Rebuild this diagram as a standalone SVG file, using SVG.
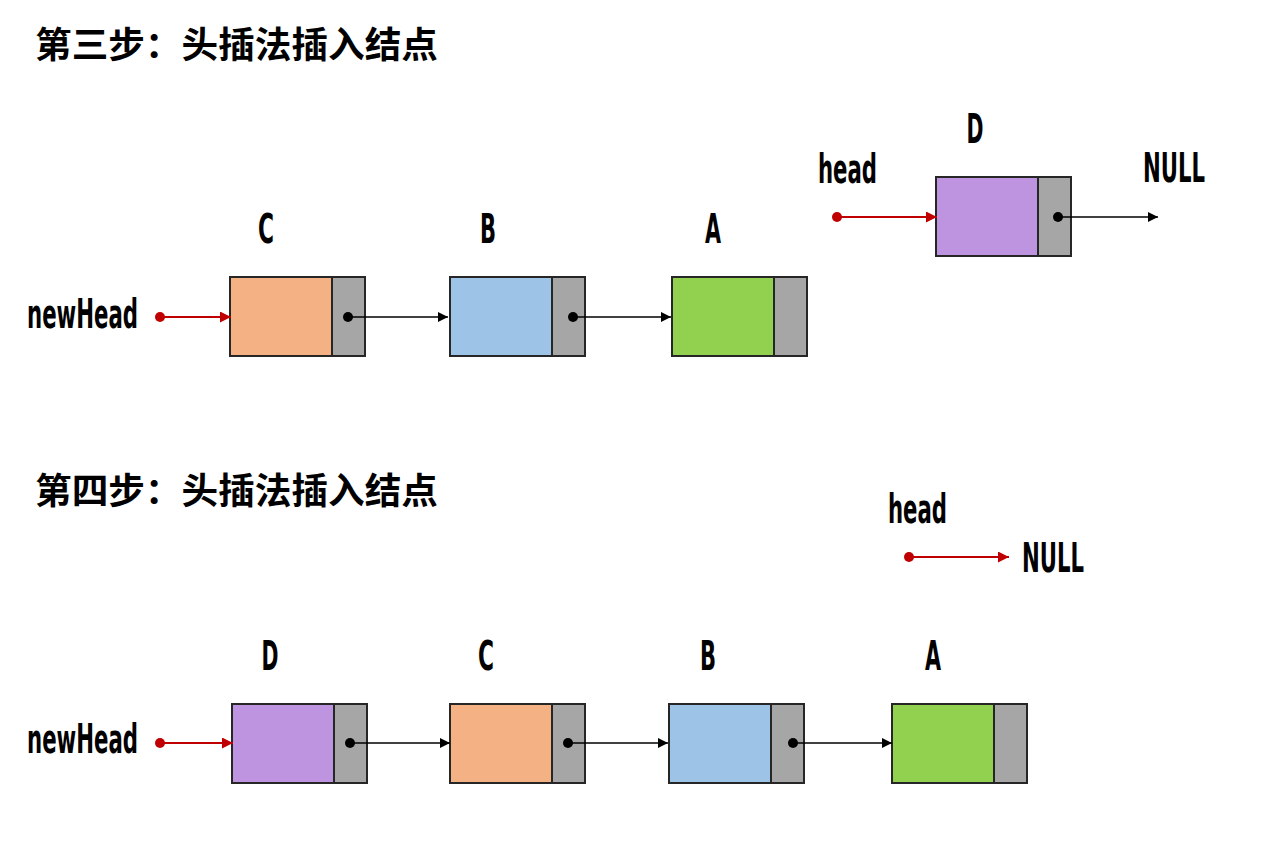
<svg xmlns="http://www.w3.org/2000/svg" width="1268" height="866" viewBox="0 0 1268 866">
<style>
.title{font-family:"Noto Sans CJK SC","Noto Sans",sans-serif;font-weight:bold;font-size:36px;fill:#000}
.lbl{font-family:"Liberation Sans Narrow","DejaVu Sans Condensed","Liberation Sans",sans-serif;font-weight:bold;font-size:41px;fill:#000}
.box{stroke:#262626;stroke-width:2}
.ptr{fill:#A6A6A6}
.orange{fill:#F4B183}.blue{fill:#9DC3E6}.green{fill:#92D050}.purple{fill:#BE93E0}
.blk{stroke:#000;stroke-width:1.3;fill:none}
.red{stroke:#C00000;stroke-width:2;fill:none}
</style>
<defs>
<marker id="ab" viewBox="0 0 10 10" refX="10" refY="5" markerWidth="11" markerHeight="10" markerUnits="userSpaceOnUse" orient="auto"><path d="M0,0L10,5L0,10z" fill="#000"/></marker>
<marker id="ar" viewBox="0 0 10 10" refX="10" refY="5" markerWidth="12" markerHeight="11" markerUnits="userSpaceOnUse" orient="auto"><path d="M0,0L10,5L0,10z" fill="#C00000"/></marker>
</defs>
<rect width="1268" height="866" fill="#fff"/>
<text class="title" x="35" y="58" textLength="403" lengthAdjust="spacingAndGlyphs">第三步：头插法插入结点</text>
<text class="title" x="35" y="504" textLength="403" lengthAdjust="spacingAndGlyphs">第四步：头插法插入结点</text>

<g id="labels">
<text class="lbl" x="27" y="328" textLength="111" lengthAdjust="spacingAndGlyphs">newHead</text>
<text class="lbl" x="818" y="183" textLength="59" lengthAdjust="spacingAndGlyphs">head</text>
<text class="lbl" x="1143" y="182" textLength="62" lengthAdjust="spacingAndGlyphs">NULL</text>
<text class="lbl" x="27" y="753" textLength="111" lengthAdjust="spacingAndGlyphs">newHead</text>
<text class="lbl" x="888" y="523" textLength="59" lengthAdjust="spacingAndGlyphs">head</text>
<text class="lbl" x="1022" y="572" textLength="62" lengthAdjust="spacingAndGlyphs">NULL</text>
</g>

<g id="top-C">
<text class="lbl" x="266" y="243" text-anchor="middle" textLength="16" lengthAdjust="spacingAndGlyphs">C</text>
<rect class="box orange" x="230" y="277" width="102" height="79"/>
<rect class="box ptr" x="332" y="277" width="33" height="79"/>
<circle cx="348" cy="317" r="5" fill="#000"/>
</g>
<g id="top-B">
<text class="lbl" x="488" y="243" text-anchor="middle" textLength="16" lengthAdjust="spacingAndGlyphs">B</text>
<rect class="box blue" x="450" y="277" width="102" height="79"/>
<rect class="box ptr" x="552" y="277" width="33" height="79"/>
<circle cx="573" cy="317" r="5" fill="#000"/>
</g>
<g id="top-A">
<text class="lbl" x="713" y="243" text-anchor="middle" textLength="16" lengthAdjust="spacingAndGlyphs">A</text>
<rect class="box green" x="672" y="277" width="102" height="79"/>
<rect class="box ptr" x="774" y="277" width="33" height="79"/>
</g>
<g id="top-D">
<text class="lbl" x="975" y="143" text-anchor="middle" textLength="17" lengthAdjust="spacingAndGlyphs">D</text>
<rect class="box purple" x="936" y="177" width="102" height="79"/>
<rect class="box ptr" x="1038" y="177" width="33" height="79"/>
<circle cx="1058" cy="217" r="5" fill="#000"/>
</g>

<g id="bot-D">
<text class="lbl" x="270" y="670" text-anchor="middle" textLength="17" lengthAdjust="spacingAndGlyphs">D</text>
<rect class="box purple" x="232" y="704" width="102" height="79"/>
<rect class="box ptr" x="334" y="704" width="33" height="79"/>
<circle cx="350" cy="743" r="5" fill="#000"/>
</g>
<g id="bot-C">
<text class="lbl" x="486" y="670" text-anchor="middle" textLength="16" lengthAdjust="spacingAndGlyphs">C</text>
<rect class="box orange" x="450" y="704" width="102" height="79"/>
<rect class="box ptr" x="552" y="704" width="33" height="79"/>
<circle cx="568" cy="743" r="5" fill="#000"/>
</g>
<g id="bot-B">
<text class="lbl" x="708" y="670" text-anchor="middle" textLength="16" lengthAdjust="spacingAndGlyphs">B</text>
<rect class="box blue" x="669" y="704" width="102" height="79"/>
<rect class="box ptr" x="771" y="704" width="33" height="79"/>
<circle cx="793" cy="743" r="5" fill="#000"/>
</g>
<g id="bot-A">
<text class="lbl" x="933" y="670" text-anchor="middle" textLength="16" lengthAdjust="spacingAndGlyphs">A</text>
<rect class="box green" x="892" y="704" width="102" height="79"/>
<rect class="box ptr" x="994" y="704" width="33" height="79"/>
</g>

<g id="connectors">
<line class="blk" x1="348" y1="317" x2="448" y2="317" marker-end="url(#ab)"/>
<line class="blk" x1="573" y1="317" x2="671" y2="317" marker-end="url(#ab)"/>
<line class="blk" x1="1058" y1="217" x2="1158" y2="217" marker-end="url(#ab)"/>
<line class="blk" x1="350" y1="743" x2="450" y2="743" marker-end="url(#ab)"/>
<line class="blk" x1="568" y1="743" x2="668" y2="743" marker-end="url(#ab)"/>
<line class="blk" x1="793" y1="743" x2="892" y2="743" marker-end="url(#ab)"/>
<circle cx="160" cy="317" r="5" fill="#C00000"/>
<line class="red" x1="160" y1="317" x2="231" y2="317" marker-end="url(#ar)"/>
<circle cx="837" cy="217" r="5" fill="#C00000"/>
<line class="red" x1="837" y1="217" x2="937" y2="217" marker-end="url(#ar)"/>
<circle cx="160" cy="743" r="5" fill="#C00000"/>
<line class="red" x1="160" y1="743" x2="233" y2="743" marker-end="url(#ar)"/>
<circle cx="909" cy="557" r="5" fill="#C00000"/>
<line class="red" x1="909" y1="557" x2="1009" y2="557" marker-end="url(#ar)"/>
</g>
</svg>
